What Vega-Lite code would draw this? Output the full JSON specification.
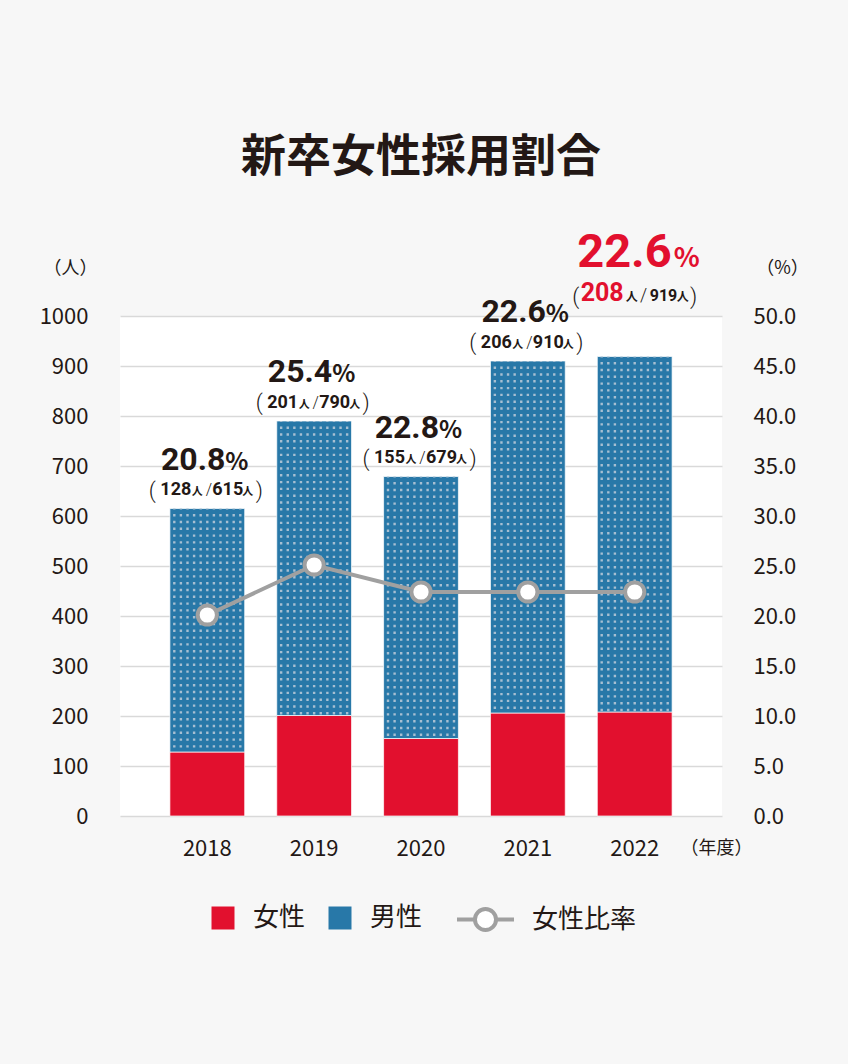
{
  "$schema": "https://vega.github.io/schema/vega-lite/v6.json",
  "width": 602,
  "height": 500,
  "autosize": {"type": "none"},
  "padding": {"left": 120, "top": 316, "right": 126, "bottom": 248},
  "background": "#f7f7f7",
  "title": {
    "text": "新卒女性採用割合",
    "font": "Noto Sans CJK JP",
    "fontSize": 45,
    "fontWeight": "bold",
    "color": "#231815",
    "anchor": "middle",
    "frame": "group",
    "offset": 48
  },
  "config": {
    "view": {"fill": "#ffffff", "stroke": null},
    "font": "Noto Sans CJK JP"
  },
  "data": {
    "values": [
      {"year": "2018", "female": 128, "male": 487, "total": 615, "rate": 20.8, "line_pct": 20.1},
      {"year": "2019", "female": 201, "male": 589, "total": 790, "rate": 25.4, "line_pct": 25.1},
      {"year": "2020", "female": 155, "male": 524, "total": 679, "rate": 22.8, "line_pct": 22.4},
      {"year": "2021", "female": 206, "male": 704, "total": 910, "rate": 22.6, "line_pct": 22.4},
      {"year": "2022", "female": 208, "male": 711, "total": 919, "rate": 22.6, "line_pct": 22.4}
    ]
  },
  "resolve": {"scale": {"y": "independent"}},
  "layer": [
    {
      "layer": [
        {
          "mark": {"type": "bar", "stroke": "#ffffff", "strokeWidth": 1, "strokeOpacity": 0.7},
          "encoding": {
            "x": {
              "field": "year", "type": "nominal",
              "scale": {"type": "band", "paddingInner": 0.3, "paddingOuter": 0.467},
              "axis": {
                "labelAngle": 0, "domain": false, "ticks": false, "tickSize": 0, "labelPadding": 22,
                "labelFont": "Noto Sans CJK JP", "labelFontSize": 22, "labelColor": "#231815",
                "title": "（年度）", "titleX": 596, "titleY": 32, "titleAlign": "center", "titleBaseline": "middle",
                "titleFont": "Noto Sans CJK JP", "titleFontSize": 18, "titleFontWeight": "normal", "titleColor": "#231815"
              }
            },
            "y": {
              "field": "female", "type": "quantitative",
              "scale": {"domain": [0, 1000], "nice": false},
              "axis": {
                "values": [0, 100, 200, 300, 400, 500, 600, 700, 800, 900, 1000], "format": "d",
                "grid": true, "gridColor": "#d9d9d9", "gridWidth": 1.5,
                "domain": false, "ticks": false, "tickSize": 0, "labelPadding": 32,
                "labelFont": "Noto Sans CJK JP", "labelFontSize": 22, "labelColor": "#231815",
                "title": "（人）", "titleAngle": 0, "titleX": -50, "titleY": -48, "titleAlign": "center", "titleBaseline": "middle",
                "titleFont": "Noto Sans CJK JP", "titleFontSize": 18, "titleFontWeight": "normal", "titleColor": "#231815"
              }
            },
            "fill": {
              "datum": "女性", "type": "nominal",
              "scale": {"domain": ["女性", "男性"], "range": ["#e2102e", "#2878a8"]},
              "legend": {
                "orient": "none", "legendX": 90, "legendY": 589, "direction": "horizontal", "title": null,
                "symbolType": "square", "symbolSize": 529, "symbolStrokeWidth": 0, "symbolOffset": 0,
                "labelFont": "Noto Sans CJK JP", "labelFontSize": 26, "labelColor": "#231815",
                "labelOffset": 17, "columnPadding": 21, "padding": 0,
                "encode": {
                  "symbols": {
                    "shape": {"value": {"expr": "datum.value === '男性' ? 'M-1,-1H1V1H-1Z M-0.64,-0.64V-0.32H-0.32V-0.64Z M0.32,-0.64V-0.32H0.64V-0.64Z M-0.64,0.32V0.64H-0.32V0.32Z M0.32,0.32V0.64H0.64V0.32Z' : 'square'"}}
                  }
                }
              }
            }
          }
        },
        {
          "mark": {"type": "bar", "stroke": "#ffffff", "strokeWidth": 1, "strokeOpacity": 0.7},
          "encoding": {
            "x": {"field": "year", "type": "nominal"},
            "y": {"field": "total", "type": "quantitative"},
            "y2": {"field": "female"},
            "fill": {
              "datum": "男性", "type": "nominal",
              "legend": {
                "orient": "none", "legendX": 90, "legendY": 589, "direction": "horizontal", "title": null,
                "symbolType": "square", "symbolSize": 529, "symbolStrokeWidth": 0, "symbolOffset": 0,
                "labelFont": "Noto Sans CJK JP", "labelFontSize": 26, "labelColor": "#231815",
                "labelOffset": 17, "columnPadding": 21, "padding": 0,
                "encode": {
                  "symbols": {
                    "shape": {"value": {"expr": "datum.value === '男性' ? 'M-1,-1H1V1H-1Z M-0.64,-0.64V-0.32H-0.32V-0.64Z M0.32,-0.64V-0.32H0.64V-0.64Z M-0.64,0.32V0.64H-0.32V0.32Z M0.32,0.32V0.64H0.64V0.32Z' : 'square'"}}
                  }
                }
              }
            }
          }
        },
        {"mark": {"type": "rule", "xOffset": -33, "strokeDash": [2.4, 4.4], "strokeDashOffset": 1.3, "strokeWidth": 2.4, "color": "#a7bfd2"},
         "encoding": {"x": {"field": "year", "type": "nominal"}, "y": {"field": "total", "type": "quantitative"}, "y2": {"field": "female"}}},
        {"mark": {"type": "rule", "xOffset": -26.4, "strokeDash": [2.4, 4.4], "strokeDashOffset": 1.3, "strokeWidth": 2.4, "color": "#a7bfd2"},
         "encoding": {"x": {"field": "year", "type": "nominal"}, "y": {"field": "total", "type": "quantitative"}, "y2": {"field": "female"}}},
        {"mark": {"type": "rule", "xOffset": -19.8, "strokeDash": [2.4, 4.4], "strokeDashOffset": 1.3, "strokeWidth": 2.4, "color": "#a7bfd2"},
         "encoding": {"x": {"field": "year", "type": "nominal"}, "y": {"field": "total", "type": "quantitative"}, "y2": {"field": "female"}}},
        {"mark": {"type": "rule", "xOffset": -13.2, "strokeDash": [2.4, 4.4], "strokeDashOffset": 1.3, "strokeWidth": 2.4, "color": "#a7bfd2"},
         "encoding": {"x": {"field": "year", "type": "nominal"}, "y": {"field": "total", "type": "quantitative"}, "y2": {"field": "female"}}},
        {"mark": {"type": "rule", "xOffset": -6.6, "strokeDash": [2.4, 4.4], "strokeDashOffset": 1.3, "strokeWidth": 2.4, "color": "#a7bfd2"},
         "encoding": {"x": {"field": "year", "type": "nominal"}, "y": {"field": "total", "type": "quantitative"}, "y2": {"field": "female"}}},
        {"mark": {"type": "rule", "xOffset": 0, "strokeDash": [2.4, 4.4], "strokeDashOffset": 1.3, "strokeWidth": 2.4, "color": "#a7bfd2"},
         "encoding": {"x": {"field": "year", "type": "nominal"}, "y": {"field": "total", "type": "quantitative"}, "y2": {"field": "female"}}},
        {"mark": {"type": "rule", "xOffset": 6.6, "strokeDash": [2.4, 4.4], "strokeDashOffset": 1.3, "strokeWidth": 2.4, "color": "#a7bfd2"},
         "encoding": {"x": {"field": "year", "type": "nominal"}, "y": {"field": "total", "type": "quantitative"}, "y2": {"field": "female"}}},
        {"mark": {"type": "rule", "xOffset": 13.2, "strokeDash": [2.4, 4.4], "strokeDashOffset": 1.3, "strokeWidth": 2.4, "color": "#a7bfd2"},
         "encoding": {"x": {"field": "year", "type": "nominal"}, "y": {"field": "total", "type": "quantitative"}, "y2": {"field": "female"}}},
        {"mark": {"type": "rule", "xOffset": 19.8, "strokeDash": [2.4, 4.4], "strokeDashOffset": 1.3, "strokeWidth": 2.4, "color": "#a7bfd2"},
         "encoding": {"x": {"field": "year", "type": "nominal"}, "y": {"field": "total", "type": "quantitative"}, "y2": {"field": "female"}}},
        {"mark": {"type": "rule", "xOffset": 26.4, "strokeDash": [2.4, 4.4], "strokeDashOffset": 1.3, "strokeWidth": 2.4, "color": "#a7bfd2"},
         "encoding": {"x": {"field": "year", "type": "nominal"}, "y": {"field": "total", "type": "quantitative"}, "y2": {"field": "female"}}},
        {"mark": {"type": "rule", "xOffset": 33, "strokeDash": [2.4, 4.4], "strokeDashOffset": 1.3, "strokeWidth": 2.4, "color": "#a7bfd2"},
         "encoding": {"x": {"field": "year", "type": "nominal"}, "y": {"field": "total", "type": "quantitative"}, "y2": {"field": "female"}}},

        {"transform": [{"filter": "datum.year != '2022'"}],
         "mark": {"type": "text", "align": "right", "baseline": "alphabetic", "dx": 18, "dy": -39, "font": "Roboto", "fontSize": 32, "fontWeight": "bold", "color": "#231815"},
         "encoding": {"x": {"field": "year", "type": "nominal"}, "y": {"field": "total", "type": "quantitative"}, "text": {"field": "rate", "type": "quantitative", "format": ".1f"}}},
        {"transform": [{"filter": "datum.year != '2022'"}],
         "mark": {"type": "text", "align": "left", "baseline": "alphabetic", "dx": 18, "dy": -39, "font": "Noto Sans CJK JP", "fontSize": 24, "fontWeight": "bold", "color": "#231815", "text": "%"},
         "encoding": {"x": {"field": "year", "type": "nominal"}, "y": {"field": "total", "type": "quantitative"}}},
        {"transform": [{"filter": "datum.year != '2022'"}],
         "mark": {"type": "text", "align": "center", "baseline": "alphabetic", "dx": -55, "dy": -11, "font": "Roboto", "fontSize": 22, "fontWeight": 300, "color": "#231815", "text": "("},
         "encoding": {"x": {"field": "year", "type": "nominal"}, "y": {"field": "total", "type": "quantitative"}}},
        {"transform": [{"filter": "datum.year != '2022'"}],
         "mark": {"type": "text", "align": "right", "baseline": "alphabetic", "dx": -16, "dy": -13.5, "font": "Roboto", "fontSize": 18, "fontWeight": "bold", "color": "#231815"},
         "encoding": {"x": {"field": "year", "type": "nominal"}, "y": {"field": "total", "type": "quantitative"}, "text": {"field": "female", "type": "quantitative", "format": "d"}}},
        {"transform": [{"filter": "datum.year != '2022'"}],
         "mark": {"type": "text", "align": "left", "baseline": "alphabetic", "dx": -15.5, "dy": -13.5, "font": "Noto Sans CJK JP", "fontSize": 11, "fontWeight": "bold", "color": "#231815", "text": "人"},
         "encoding": {"x": {"field": "year", "type": "nominal"}, "y": {"field": "total", "type": "quantitative"}}},
        {"transform": [{"filter": "datum.year != '2022'"}],
         "mark": {"type": "text", "align": "center", "baseline": "alphabetic", "dx": 1.5, "dy": -13.5, "font": "Roboto", "fontSize": 16, "fontWeight": 300, "color": "#231815", "text": "/"},
         "encoding": {"x": {"field": "year", "type": "nominal"}, "y": {"field": "total", "type": "quantitative"}}},
        {"transform": [{"filter": "datum.year != '2022'"}],
         "mark": {"type": "text", "align": "left", "baseline": "alphabetic", "dx": 5, "dy": -13.5, "font": "Roboto", "fontSize": 18, "fontWeight": "bold", "color": "#231815"},
         "encoding": {"x": {"field": "year", "type": "nominal"}, "y": {"field": "total", "type": "quantitative"}, "text": {"field": "total", "type": "quantitative", "format": "d"}}},
        {"transform": [{"filter": "datum.year != '2022'"}],
         "mark": {"type": "text", "align": "left", "baseline": "alphabetic", "dx": 35, "dy": -13.5, "font": "Noto Sans CJK JP", "fontSize": 11, "fontWeight": "bold", "color": "#231815", "text": "人"},
         "encoding": {"x": {"field": "year", "type": "nominal"}, "y": {"field": "total", "type": "quantitative"}}},
        {"transform": [{"filter": "datum.year != '2022'"}],
         "mark": {"type": "text", "align": "center", "baseline": "alphabetic", "dx": 52, "dy": -11, "font": "Roboto", "fontSize": 22, "fontWeight": 300, "color": "#231815", "text": ")"},
         "encoding": {"x": {"field": "year", "type": "nominal"}, "y": {"field": "total", "type": "quantitative"}}},

        {"transform": [{"filter": "datum.year == '2022'"}],
         "mark": {"type": "text", "align": "right", "baseline": "alphabetic", "dx": 37, "dy": -89.5, "font": "Roboto", "fontSize": 47, "fontWeight": "bold", "color": "#e2102e"},
         "encoding": {"x": {"field": "year", "type": "nominal"}, "y": {"field": "total", "type": "quantitative"}, "text": {"field": "rate", "type": "quantitative", "format": ".1f"}}},
        {"transform": [{"filter": "datum.year == '2022'"}],
         "mark": {"type": "text", "align": "left", "baseline": "alphabetic", "dx": 39, "dy": -89.5, "font": "Noto Sans CJK JP", "fontSize": 27, "fontWeight": "bold", "color": "#e2102e", "text": "%"},
         "encoding": {"x": {"field": "year", "type": "nominal"}, "y": {"field": "total", "type": "quantitative"}}},
        {"transform": [{"filter": "datum.year == '2022'"}],
         "mark": {"type": "text", "align": "center", "baseline": "alphabetic", "dx": -59, "dy": -53, "font": "Roboto", "fontSize": 22, "fontWeight": 300, "color": "#231815", "text": "("},
         "encoding": {"x": {"field": "year", "type": "nominal"}, "y": {"field": "total", "type": "quantitative"}}},
        {"transform": [{"filter": "datum.year == '2022'"}],
         "mark": {"type": "text", "align": "right", "baseline": "alphabetic", "dx": -11, "dy": -55.5, "font": "Roboto", "fontSize": 25, "fontWeight": "bold", "color": "#e2102e"},
         "encoding": {"x": {"field": "year", "type": "nominal"}, "y": {"field": "total", "type": "quantitative"}, "text": {"field": "female", "type": "quantitative", "format": "d"}}},
        {"transform": [{"filter": "datum.year == '2022'"}],
         "mark": {"type": "text", "align": "left", "baseline": "alphabetic", "dx": -9, "dy": -55.5, "font": "Noto Sans CJK JP", "fontSize": 12, "fontWeight": "bold", "color": "#231815", "text": "人"},
         "encoding": {"x": {"field": "year", "type": "nominal"}, "y": {"field": "total", "type": "quantitative"}}},
        {"transform": [{"filter": "datum.year == '2022'"}],
         "mark": {"type": "text", "align": "center", "baseline": "alphabetic", "dx": 9, "dy": -55.5, "font": "Roboto", "fontSize": 18, "fontWeight": 300, "color": "#231815", "text": "/"},
         "encoding": {"x": {"field": "year", "type": "nominal"}, "y": {"field": "total", "type": "quantitative"}}},
        {"transform": [{"filter": "datum.year == '2022'"}],
         "mark": {"type": "text", "align": "left", "baseline": "alphabetic", "dx": 15, "dy": -55.5, "font": "Roboto", "fontSize": 16, "fontWeight": "bold", "color": "#231815"},
         "encoding": {"x": {"field": "year", "type": "nominal"}, "y": {"field": "total", "type": "quantitative"}, "text": {"field": "total", "type": "quantitative", "format": "d"}}},
        {"transform": [{"filter": "datum.year == '2022'"}],
         "mark": {"type": "text", "align": "left", "baseline": "alphabetic", "dx": 42, "dy": -55.5, "font": "Noto Sans CJK JP", "fontSize": 12, "fontWeight": "bold", "color": "#231815", "text": "人"},
         "encoding": {"x": {"field": "year", "type": "nominal"}, "y": {"field": "total", "type": "quantitative"}}},
        {"transform": [{"filter": "datum.year == '2022'"}],
         "mark": {"type": "text", "align": "center", "baseline": "alphabetic", "dx": 59, "dy": -53, "font": "Roboto", "fontSize": 22, "fontWeight": 300, "color": "#231815", "text": ")"},
         "encoding": {"x": {"field": "year", "type": "nominal"}, "y": {"field": "total", "type": "quantitative"}}}
      ]
    },
    {
      "layer": [
        {
          "mark": {"type": "line", "strokeWidth": 4},
          "encoding": {
            "x": {"field": "year", "type": "nominal"},
            "y": {
              "field": "line_pct", "type": "quantitative",
              "scale": {"domain": [0, 50], "nice": false},
              "axis": {
                "orient": "right",
                "values": [0, 5, 10, 15, 20, 25, 30, 35, 40, 45, 50], "format": ".1f",
                "grid": false, "domain": false, "ticks": false, "tickSize": 0, "labelPadding": 31,
                "labelFont": "Noto Sans CJK JP", "labelFontSize": 22, "labelColor": "#231815",
                "title": "（%）", "titleAngle": 0, "titleX": 60, "titleY": -48, "titleAlign": "center", "titleBaseline": "middle",
                "titleFont": "Noto Sans CJK JP", "titleFontSize": 18, "titleFontWeight": "normal", "titleColor": "#231815"
              }
            },
            "stroke": {
              "datum": "女性比率", "type": "nominal",
              "scale": {"domain": ["女性比率"], "range": ["#a0a0a0"]},
              "legend": {
                "orient": "none", "legendX": 335, "legendY": 573, "direction": "horizontal", "title": null,
                "symbolType": "M-1,0H-0.37M0.37,0H1M-0.37,0A0.37,0.37,0,1,0,0.37,0A0.37,0.37,0,1,0,-0.37,0Z",
                "symbolSize": 3249, "symbolStrokeWidth": 4, "symbolOffset": 0,
                "symbolFillColor": "#ffffff", "symbolStrokeColor": "#a0a0a0",
                "labelFont": "Noto Sans CJK JP", "labelFontSize": 26, "labelColor": "#231815",
                "labelOffset": 16, "padding": 0
              }
            }
          }
        },
        {
          "mark": {"type": "point", "filled": true, "fill": "#ffffff", "stroke": "#a0a0a0", "strokeWidth": 4, "size": 370, "opacity": 1},
          "encoding": {
            "x": {"field": "year", "type": "nominal"},
            "y": {"field": "line_pct", "type": "quantitative"}
          }
        }
      ]
    }
  ]
}
